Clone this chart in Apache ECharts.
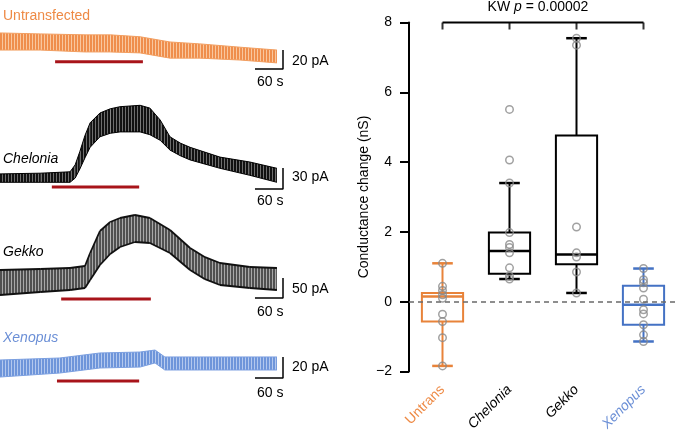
<!DOCTYPE html>
<html>
<head>
<meta charset="utf-8">
<script src="https://cdn.jsdelivr.net/npm/echarts@6/dist/echarts.min.js"></script>
<style>
  html, body { margin: 0; padding: 0; background: #fff; }
  #main { width: 675px; height: 430px; }
</style>
</head>
<body>
<div id="main"></div>
<script>
// ---- current traces: envelope (top / bottom of the oscillation), time in s, current in pA
const untransTime = [0, 86, 182, 236, 300, 364, 428, 514, 593];
const untransTop = [39, 38, 37, 37, 35, 29.5, 27.5, 24, 21];
const untransBottom = [21, 21, 19, 19, 18, 12.5, 12.5, 10.5, 7.5];

const cheloniaTime = [0, 86, 150, 161, 171, 182, 193, 214, 236, 257, 300, 321, 343, 364, 386, 407, 471, 535, 593];
const cheloniaTop = [23, 24, 26, 36, 55, 78, 96, 110, 116, 119, 121, 117, 100, 76, 67, 61, 47, 40, 31];
const cheloniaBottom = [11, 11, 11, 17, 30, 46, 61, 76, 81, 83, 83, 79, 71, 57, 49, 43, 31, 21, 11];

const gekkoTime = [0, 86, 150, 182, 193, 214, 236, 257, 289, 321, 364, 407, 439, 471, 535, 593];
const gekkoTop = [75, 77.5, 80, 85, 117.5, 172.5, 195, 205, 212.5, 205, 175, 130, 107, 92.5, 82.5, 80];
const gekkoBottom = [12.5, 20, 25, 30, 50, 87.5, 115, 132.5, 145, 142.5, 117.5, 75, 52, 37.5, 30, 25];

const xenopusTime = [0, 128, 214, 300, 332, 353, 428, 593];
const xenopusTop = [23.8, 25.7, 30.5, 31.4, 33.3, 26.7, 26.7, 26.7];
const xenopusBottom = [7.6, 11.4, 16.2, 17.1, 21, 14.3, 14.3, 14.3];

// stimulus bars (red) and scale bars
const stimStart = [118, 111, 131, 122];
const stimEnd = [306, 298, 323, 298];
const stimLevel = [8.7, 4.3, 2.5, 3.8];
const scaleBarPA = [20, 30, 50, 20];
const scaleBarBase = [1, 1.4, 5, 6.7];
const scaleBarSec = 60;
const traceAxisMax = [40, 130, 225, 40];

// ---- box plot: conductance change (nS)
const groups = ['Untrans', 'Chelonia', 'Gekko', 'Xenopus'];
const boxMin = [-1.84, 0.65, 0.25, -1.14];
const boxQ1 = [-0.57, 0.8, 1.07, -0.66];
const boxMedian = [0.15, 1.45, 1.35, -0.09];
const boxQ3 = [0.25, 1.98, 4.76, 0.46];
const boxMax = [1.1, 3.4, 7.55, 0.95];

const untransPts = [1.1, 0.44, 0.32, 0.2, 0.1, -0.36, -0.57, -1.03, -1.84];
const cheloniaPts = [5.51, 4.06, 3.4, 1.98, 1.64, 1.55, 1.4, 0.97, 0.73, 0.65];
const gekkoPts = [7.55, 7.35, 2.14, 1.4, 1.28, 0.85, 0.25];
const xenopusPts = [0.95, 0.63, 0.54, 0.39, 0.07, -0.23, -0.35, -0.66, -0.95, -1.14];

const yTicks = [-2, 0, 2, 4, 6, 8];

// ---- styling
const FONT = '"Liberation Sans", Arial, Helvetica, sans-serif';
const ORANGE = '#E8833A';
const BLUE = '#4472C4';
const RED = '#A8141A';
const boxColors = [ORANGE, '#000', '#000', BLUE];
const labelColors = ['#EE8A45', '#000', '#000', '#6B8FD6'];
const stripeDark = ['#EF8E4C', '#111111', '#505050', '#6e95da'];
const stripeLight = ['#F9C79E', '#6e6e6e', '#a8a8a8', '#b3c8ee'];
const traceEdge = ['#F29E60', '#000000', '#111111', '#7b9fe0'];
const traceGridPos = [
  { top: 32, height: 38 },
  { top: 99, height: 91 },
  { top: 210, height: 90 },
  { top: 343, height: 42 }
];

const traces = [
  [untransTime, untransTop, untransBottom],
  [cheloniaTime, cheloniaTop, cheloniaBottom],
  [gekkoTime, gekkoTop, gekkoBottom],
  [xenopusTime, xenopusTop, xenopusBottom]
];

// vertical-stripe pattern to suggest the fast oscillation of the current
function stripePattern(dark, light) {
  const c = document.createElement('canvas');
  c.width = 3; c.height = 4;
  const g = c.getContext('2d');
  g.fillStyle = light; g.fillRect(0, 0, 3, 4);
  g.fillStyle = dark; g.fillRect(0, 0, 2, 4);
  return { image: c, repeat: 'repeat' };
}
const patterns = stripeDark.map((d, i) => stripePattern(d, stripeLight[i]));

var myChart = echarts.init(document.getElementById('main'), null, { renderer: 'canvas' });

const grids = [];
const xAxes = [];
const yAxes = [];
const series = [];

// one quad per pair of neighbouring envelope samples
function renderEnvelope(tr, params, api) {
  const a1 = api.coord([api.value(0), api.value(1)]);
  const b1 = api.coord([api.value(0), api.value(2)]);
  const a2 = api.coord([api.value(3), api.value(4)]);
  const b2 = api.coord([api.value(3), api.value(5)]);
  const edgeW = tr === 2 ? 1.8 : 1;
  return {
    type: 'group',
    children: [
      { type: 'polygon', shape: { points: [a1, a2, b2, b1] }, style: { fill: patterns[tr] } },
      { type: 'line', shape: { x1: a1[0], y1: a1[1], x2: a2[0], y2: a2[1] }, style: { stroke: traceEdge[tr], lineWidth: edgeW } },
      { type: 'line', shape: { x1: b1[0], y1: b1[1], x2: b2[0], y2: b2[1] }, style: { stroke: traceEdge[tr], lineWidth: edgeW } }
    ]
  };
}

traces.forEach(function (tr, i) {
  grids.push({ left: 0, width: 283, top: traceGridPos[i].top, height: traceGridPos[i].height, outerBoundsMode: 'none' });
  xAxes.push({ gridIndex: i, type: 'value', min: 0, max: 606, show: false });
  yAxes.push({ gridIndex: i, type: 'value', min: 0, max: traceAxisMax[i], show: false });

  const t = tr[0], top = tr[1], bot = tr[2];
  const segs = [];
  for (let k = 0; k < t.length - 1; k++) {
    segs.push([t[k], top[k], bot[k], t[k + 1], top[k + 1], bot[k + 1]]);
  }
  series.push({
    type: 'custom', xAxisIndex: i, yAxisIndex: i, silent: true,
    renderItem: (params, api) => renderEnvelope(i, params, api),
    encode: { x: [0, 3], y: [1, 2, 4, 5] },
    data: segs
  });
  // stimulus bar
  series.push({
    type: 'line', xAxisIndex: i, yAxisIndex: i, symbol: 'none', silent: true, clip: false,
    lineStyle: { color: RED, width: 3 },
    data: [[stimStart[i], stimLevel[i]], [stimEnd[i], stimLevel[i]]]
  });
  // scale bar (L shape)
  series.push({
    type: 'line', xAxisIndex: i, yAxisIndex: i, symbol: 'none', silent: true, clip: false,
    lineStyle: { color: '#000', width: 1.5 },
    data: [[606 - scaleBarSec, scaleBarBase[i]], [606, scaleBarBase[i]], [606, scaleBarBase[i] + scaleBarPA[i]]]
  });
});

// box plot grid
const B = traces.length;
grids.push({ left: 409, right: -2, top: 22.5, height: 349, outerBoundsMode: 'none' });
xAxes.push({
  gridIndex: B, type: 'category',
  data: groups.map((g, i) => ({
    value: g,
    textStyle: { color: labelColors[i], fontStyle: i === 0 ? 'normal' : 'italic' }
  })),
  axisLine: { show: false },
  axisTick: { show: false },
  axisLabel: { rotate: 45, interval: 0, margin: 16, fontSize: 14, fontFamily: FONT }
});
yAxes.push({
  gridIndex: B, type: 'value', min: yTicks[0], max: yTicks[yTicks.length - 1], interval: 2,
  name: 'Conductance change (nS)', nameLocation: 'middle', nameGap: 38,
  nameTextStyle: { fontSize: 14, color: '#000', fontFamily: FONT },
  axisLine: { show: true, lineStyle: { color: '#000', width: 2 } },
  axisTick: { show: true, length: 9, lineStyle: { color: '#000', width: 2 } },
  axisLabel: {
    fontSize: 14, color: '#000', margin: 17, fontFamily: FONT,
    formatter: v => (v < 0 ? '\u2212' + (-v) : String(v))
  },
  splitLine: { show: false }
});

// boxes drawn through the axes
series.push({
  type: 'custom', xAxisIndex: B, yAxisIndex: B, silent: true,
  renderItem: function (params, api) {
    const x = api.value(0);
    const lo = api.coord([x, api.value(1)]);
    const q1 = api.coord([x, api.value(2)]);
    const md = api.coord([x, api.value(3)]);
    const q3 = api.coord([x, api.value(4)]);
    const hi = api.coord([x, api.value(5)]);
    const w = api.size([1, 0])[0] * 0.615;
    const c = boxColors[params.dataIndex];
    const st = { stroke: c, lineWidth: 2, fill: null };
    const cx = lo[0];
    return {
      type: 'group',
      children: [
        { type: 'line', shape: { x1: cx, y1: lo[1], x2: cx, y2: q1[1] }, style: st },
        { type: 'line', shape: { x1: cx, y1: q3[1], x2: cx, y2: hi[1] }, style: st },
        { type: 'line', shape: { x1: cx - w / 4, y1: lo[1], x2: cx + w / 4, y2: lo[1] }, style: { stroke: c, lineWidth: 2.5 } },
        { type: 'line', shape: { x1: cx - w / 4, y1: hi[1], x2: cx + w / 4, y2: hi[1] }, style: { stroke: c, lineWidth: 2.5 } },
        { type: 'rect', shape: { x: cx - w / 2, y: q3[1], width: w, height: q1[1] - q3[1] }, style: st },
        { type: 'line', shape: { x1: cx - w / 2, y1: md[1], x2: cx + w / 2, y2: md[1] }, style: { stroke: c, lineWidth: 2.5 } }
      ]
    };
  },
  data: groups.map((g, i) => [i, boxMin[i], boxQ1[i], boxMedian[i], boxQ3[i], boxMax[i]])
});

// individual data points + zero line
const allPts = [untransPts, cheloniaPts, gekkoPts, xenopusPts];
series.push({
  type: 'scatter', xAxisIndex: B, yAxisIndex: B, silent: true, clip: false,
  symbol: 'circle', symbolSize: 7.5,
  itemStyle: { color: 'rgba(0,0,0,0)', borderColor: '#8a8a8a', borderWidth: 1.5 },
  data: [].concat(...allPts.map((arr, i) => arr.map(v => [i, v]))),
  markLine: {
    silent: true, symbol: 'none', label: { show: false },
    lineStyle: { color: '#6a6a6a', type: [5, 4], width: 1.5 },
    data: [{ yAxis: 0 }]
  },
  z: 3
});

// KW bracket across the groups
series.push({
  type: 'line', xAxisIndex: B, yAxisIndex: B, symbol: 'none', silent: true, clip: false,
  lineStyle: { color: '#000', width: 2 },
  data: [[0, 8], [groups.length - 1, 8]]
});
series.push({
  type: 'scatter', xAxisIndex: B, yAxisIndex: B, silent: true, clip: false,
  symbol: 'rect', symbolSize: [2, 7], symbolOffset: [0, '50%'],
  itemStyle: { color: '#000' },
  data: groups.map((g, i) => [i, 8])
});

function txt(text, x, y, color, italic) {
  return {
    type: 'text', x: x, y: y, silent: true,
    style: {
      text: text, fill: color || '#000',
      font: (italic ? 'italic ' : '') + '14px ' + FONT,
      align: 'left', verticalAlign: 'middle'
    }
  };
}

const option = {
  animation: false,
  backgroundColor: '#fff',
  textStyle: { fontFamily: FONT },
  grid: grids,
  xAxis: xAxes,
  yAxis: yAxes,
  series: series,
  graphic: [
    txt('Untransfected', 3, 16, labelColors[0], false),
    txt('20 pA', 292, 61),
    txt('60 s', 257, 82),
    txt('Chelonia', 3, 159, '#000', true),
    txt('30 pA', 292, 177),
    txt('60 s', 257, 201),
    txt('Gekko', 3, 252, '#000', true),
    txt('50 pA', 292, 289),
    txt('60 s', 257, 312),
    txt('Xenopus', 3, 338, labelColors[3], true),
    txt('20 pA', 292, 367),
    txt('60 s', 257, 393),
    {
      type: 'text', x: 538, y: 7, silent: true,
      style: {
        text: '{n|KW }{i|p}{n| = 0.00002}',
        align: 'center', verticalAlign: 'middle',
        rich: {
          n: { fontSize: 14, fontFamily: FONT, fill: '#000', color: '#000' },
          i: { fontSize: 14, fontFamily: FONT, fontStyle: 'italic', fill: '#000', color: '#000' }
        }
      }
    }
  ]
};

myChart.setOption(option);
</script>
</body>
</html>
